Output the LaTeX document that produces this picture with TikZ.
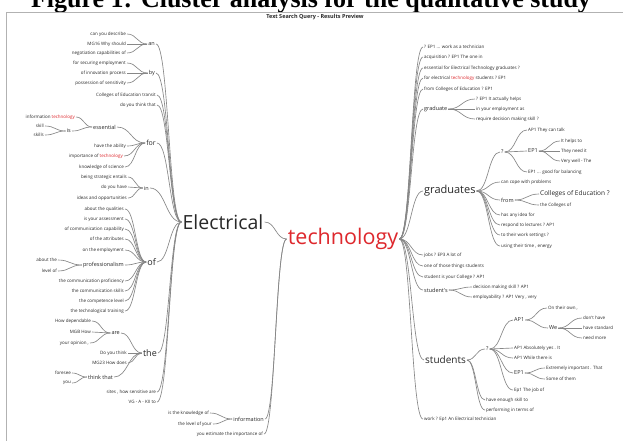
\documentclass[tikz,border=0pt]{standalone}
\usepackage{fontspec}
\usetikzlibrary{calc}
\newfontfamily\uif{Open Sans}
\newfontfamily\ttlf{Liberation Serif}
\definecolor{tred}{RGB}{222,40,45}
\definecolor{txt}{RGB}{40,40,40}
\definecolor{lgray}{RGB}{135,135,135}
\newcommand\wt[2]{\draw[lnk] let \p1=(#1.east), \p2=(#2.west), \p3=($(\p1)!0.5!(\p2)$) in (\p1) .. controls (\x3,\y1) and (\x3,\y2) .. (\p2);}
\begin{document}
\begin{tikzpicture}[x=1pt,y=-1pt,
  lbl/.style={inner xsep=1pt, inner ysep=0.3pt, text=txt, font=\uif\fontsize{4.5}{5}\selectfont},
  lblL/.style={lbl, anchor=east},
  lblR/.style={lbl, anchor=west},
  mid/.style={font=\uif\fontsize{5.5}{6}\selectfont},
  mid7/.style={font=\uif\fontsize{7}{8}\selectfont},
  big9/.style={font=\uif\fontsize{9}{10}\selectfont},
  lnk/.style={draw=lgray, line width=0.65pt}]
\useasboundingbox (0,0) rectangle (623,440);
\fill[white] (0,0) rectangle (623,440);
\node[font=\ttlf\bfseries\fontsize{26}{28}\selectfont, anchor=base, inner sep=0] (title) at (311,7) {Figure 1: Cluster analysis for the qualitative study};
\draw[fill=white, draw=gray!60, line width=1pt] (6,12) rectangle (640,460);
\node[font=\uif\bfseries\fontsize{5.5}{6}\selectfont, text=txt] (hdr) at (315,17) {Text Search Query - Results Preview};

% central words
\node[font=\uif\fontsize{19.5}{20}\selectfont, text=txt, inner sep=1pt] (elec) at (223,222) {Electrical};
\node[font=\uif\fontsize{21.5}{22}\selectfont, text=tred, inner sep=1pt] (tech) at (343,239) {technology};

% ---------------- left side
\node[lblL, mid] (an) at (156,44) {an};
\node[lblL] (an1) at (127,34) {can you describe};
\node[lblL] (an2) at (127,44) {MG16 Why should};
\node[lblL] (an3) at (127,53) {negotiation capabilities of};
\node[lblL, mid] (by) at (156,73) {by};
\node[lblL] (by1) at (127,63) {for securing employment};
\node[lblL] (by2) at (127,73) {of innovation process};
\node[lblL] (by3) at (127,83) {possession of sensitivity};
\node[lblL] (cet) at (157,95) {Colleges of Education transit};
\node[lblL] (dyt) at (157,105) {do you think that};
\node[lblL, mid7] (for) at (157,143) {for};
\node[lblL, mid] (ess) at (117,127) {essential};
\node[lblL] (itech) at (76,117) {information \textcolor{tred}{technology}};
\node[lblL, mid] (is) at (72,131) {is};
\node[lblL] (sk1) at (45,126) {skill};
\node[lblL] (sk2) at (45,135) {skills};
\node[lblL] (for2) at (127,146) {have the ability};
\node[lblL] (for3) at (124,156) {importance of \textcolor{tred}{technology}};
\node[lblL] (for4) at (125,167) {knowledge of science};
\node[lblL, mid] (in) at (150,188) {in};
\node[lblL] (in1) at (128,177) {being strategic entails};
\node[lblL] (in2) at (128,187) {do you have};
\node[lblL] (in3) at (128,198) {ideas and opportunities};
\node[lblL, big9] (of) at (157,262) {of};
\node[lblL] (of1) at (125,209) {about the qualities};
\node[lblL] (of2) at (125,219) {is your assessment};
\node[lblL] (of3) at (125,229) {of communication capability};
\node[lblL] (of4) at (125,239) {of the attributes};
\node[lblL] (of5) at (125,250) {on the employment};
\node[lblL, mid] (prof) at (125,265) {professionalism};
\node[lblL] (pr1) at (58,260) {about the};
\node[lblL] (pr2) at (58,271) {level of};
\node[lblL] (of6) at (125,281) {the communication proficiency};
\node[lblL] (of7) at (125,291) {the communication skills};
\node[lblL] (of8) at (125,301) {the competence level};
\node[lblL] (of9) at (125,311) {the technological training};
\node[lblL, big9] (the) at (158,353) {the};
\node[lblL, mid] (are) at (121,333) {are};
\node[lblL] (ar1) at (92,321) {How dependable};
\node[lblL] (ar2) at (92,332) {MGB How};
\node[lblL] (ar3) at (90,343) {your opinion ,};
\node[lblL] (th1) at (128,353) {Do you think};
\node[lblL] (th2) at (128,363) {MG23 How does};
\node[lblL, mid] (tkt) at (114,377) {think that};
\node[lblL] (tk1) at (72,373) {foresee};
\node[lblL] (tk2) at (72,383) {you};
\node[lblL] (sites) at (157,392) {sites , how sensitive are};
\node[lblL] (vg) at (157,402) {VG - A - KII to};

\node[lblL, mid] (info) at (265,419) {information};
\node[lblL] (inf1) at (210,413) {is the knowledge of};
\node[lblL] (inf2) at (213,424) {the level of your};
\node[lblL] (yest) at (264,434) {you estimate the importance of};

% ---------------- right side
\node[lblR] (r1) at (423,47) {? EP1 ... work as a technician};
\node[lblR] (r2) at (423,57) {acquisition ? EP1 The one in};
\node[lblR] (r3) at (423,68) {essential for Electrical Technology graduates ?};
\node[lblR] (r4) at (423,78) {for electrical \textcolor{tred}{technology} students ? EP1};
\node[lblR] (r5) at (423,89) {from Colleges of Education ? EP1};
\node[lblR, mid] (grad) at (423,109) {graduate};
\node[lblR] (g1) at (475,99) {? EP1 It actually helps};
\node[lblR] (g2) at (475,109) {in your employment as};
\node[lblR] (g3) at (475,119) {require decision making skill ?};
\node[lblR, font=\uif\fontsize{11}{12}\selectfont] (grads) at (423,191) {graduates};
\node[lblR, mid] (gq) at (500,152) {?};
\node[lblR] (gq1) at (527,130) {AP1 They can talk};
\node[lblR, mid] (gep) at (527,151) {EP1};
\node[lblR] (ge1) at (560,141) {It helps to};
\node[lblR] (ge2) at (560,151) {They need it};
\node[lblR] (ge3) at (560,161) {Very well - The};
\node[lblR] (gq3) at (527,172) {EP1 ... good for balancing};
\node[lblR] (gs2) at (500,182) {can cope with problems};
\node[lblR, mid] (from) at (500,200) {from};
\node[lblR, font=\uif\fontsize{6.5}{7}\selectfont] (fr1) at (539,194) {Colleges of Education ?};
\node[lblR] (fr2) at (539,205) {the Colleges of};
\node[lblR] (gs4) at (500,215) {has any idea for};
\node[lblR] (gs5) at (500,225) {respond to lectures ? AP1};
\node[lblR] (gs6) at (500,235) {to their work settings ?};
\node[lblR] (gs7) at (500,246) {using their time , energy};
\node[lblR] (r6) at (423,255) {jobs ? EP3 A lot of};
\node[lblR] (r7) at (423,266) {one of those things students};
\node[lblR] (r8) at (423,277) {student is your College ? AP1};
\node[lblR, mid] (stus) at (423,290) {student's};
\node[lblR] (ss1) at (472,287) {decision making skill ? AP1};
\node[lblR] (ss2) at (472,297) {employability ? AP1 Very , very};
\node[lblR, font=\uif\fontsize{10}{11}\selectfont] (stud) at (424,360) {students};
\node[lblR, mid] (sq) at (485,349) {?};
\node[lblR, mid] (sap) at (513,320) {AP1};
\node[lblR] (sa1) at (547,308) {On their own ,};
\node[lblR, mid] (we) at (548,328) {We};
\node[lblR] (we1) at (582,318) {don't have};
\node[lblR] (we2) at (582,328) {have standard};
\node[lblR] (we3) at (582,338) {need more};
\node[lblR] (sq2) at (513,348) {AP1 Absolutely yes . It};
\node[lblR] (sq3) at (513,358) {AP1 While there is};
\node[lblR, mid] (sep) at (513,373) {EP1};
\node[lblR] (se1) at (545,368) {Extremely important . That};
\node[lblR] (se2) at (545,379) {Some of them};
\node[lblR] (sq5) at (513,390) {Ep1 The job of};
\node[lblR] (st2) at (485,400) {have enough skill to};
\node[lblR] (st3) at (485,410) {performing in terms of};
\node[lblR] (r9) at (423,419) {work ? Ep1 An Electrical technician};

% ---------------- connectors, left side
\foreach \c in {an1,an2,an3} {\wt{\c}{an}}
\foreach \c in {by1,by2,by3} {\wt{\c}{by}}
\foreach \c in {sk1,sk2} {\wt{\c}{is}}
\foreach \c in {itech,is} {\wt{\c}{ess}}
\foreach \c in {ess,for2,for3,for4} {\wt{\c}{for}}
\foreach \c in {in1,in2,in3} {\wt{\c}{in}}
\foreach \c in {pr1,pr2} {\wt{\c}{prof}}
\foreach \c in {of1,of2,of3,of4,of5,prof,of6,of7,of8,of9} {\wt{\c}{of}}
\foreach \c in {ar1,ar2,ar3} {\wt{\c}{are}}
\foreach \c in {tk1,tk2} {\wt{\c}{tkt}}
\foreach \c in {are,th1,th2,tkt} {\wt{\c}{the}}
\foreach \c in {an,by,cet,dyt,for,in,of,the,sites,vg} {\wt{\c}{elec}}
\foreach \c in {inf1,inf2} {\wt{\c}{info}}
\foreach \c in {elec,info,yest} {\wt{\c}{tech}}
% ---------------- connectors, right side
\foreach \c in {r1,r2,r3,r4,r5,grad,grads,r6,r7,r8,stus,stud,r9} {\wt{tech}{\c}}
\foreach \c in {g1,g2,g3} {\wt{grad}{\c}}
\foreach \c in {gq,gs2,from,gs4,gs5,gs6,gs7} {\wt{grads}{\c}}
\foreach \c in {gq1,gep,gq3} {\wt{gq}{\c}}
\foreach \c in {ge1,ge2,ge3} {\wt{gep}{\c}}
\foreach \c in {fr1,fr2} {\wt{from}{\c}}
\foreach \c in {ss1,ss2} {\wt{stus}{\c}}
\foreach \c in {sq,st2,st3} {\wt{stud}{\c}}
\foreach \c in {sap,sq2,sq3,sep,sq5} {\wt{sq}{\c}}
\foreach \c in {sa1,we} {\wt{sap}{\c}}
\foreach \c in {we1,we2,we3} {\wt{we}{\c}}
\foreach \c in {se1,se2} {\wt{sep}{\c}}
\end{tikzpicture}
\end{document}
